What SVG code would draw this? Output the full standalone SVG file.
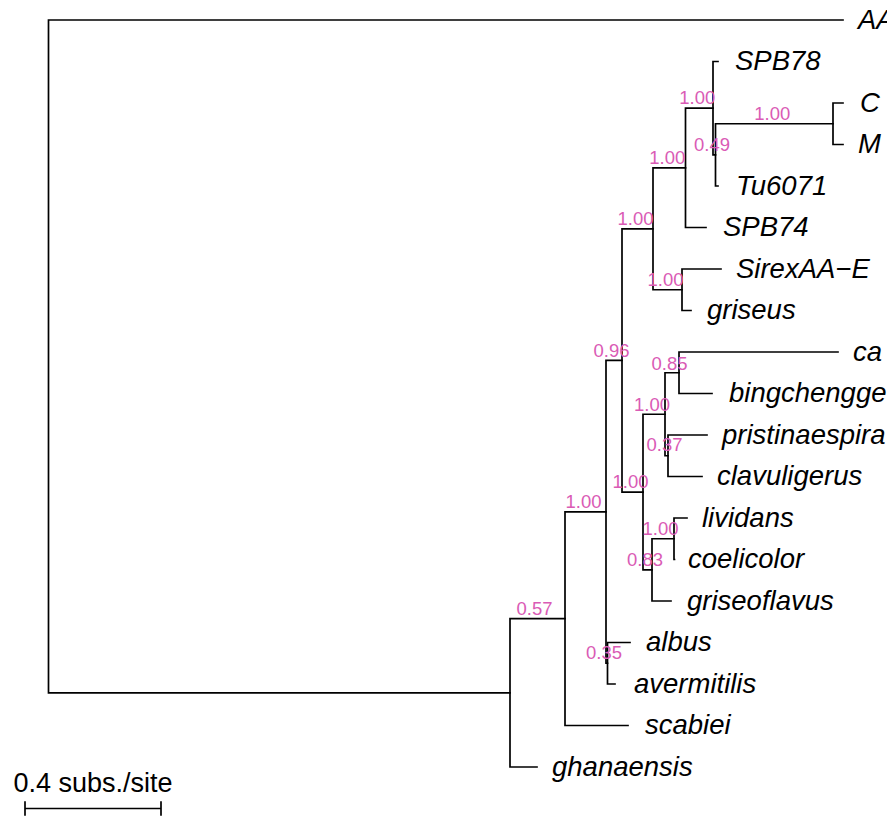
<svg xmlns="http://www.w3.org/2000/svg" width="887" height="816" viewBox="0 0 887 816">
<style>
.br{fill:none;stroke:#000;stroke-width:1.7;stroke-linecap:square}
.tip{font-family:"Liberation Sans",Arial,sans-serif;font-style:italic;font-size:27.5px;fill:#000}
.sup{font-family:"Liberation Sans",Arial,sans-serif;font-size:18.5px;fill:#DA5BB5;text-anchor:middle}
.sc{font-family:"Liberation Sans",Arial,sans-serif;font-size:27px;fill:#000;text-anchor:middle}
</style>
<rect width="887" height="816" fill="#fff"/>
<g id="connectors">
<path class="br" d="M843 20H48.5V692.8H510"/>
<path class="br" d="M565 618.7H510V767H537"/>
<path class="br" d="M606 511.8H565V725.5H628"/>
<path class="br" d="M622 360.4H606V663.25H607.5"/>
<path class="br" d="M653 228.8H622V492.1H643"/>
<path class="br" d="M685.5 167.85H653V289.75H682"/>
<path class="br" d="M713 108.2H685.5V227.5H706"/>
<path class="br" d="M718 61.5H713V154.9H715.5"/>
<path class="br" d="M833 123.75H715.5V186H718"/>
<path class="br" d="M843 103H833V144.5H843"/>
<path class="br" d="M721 269H682V310.5H691"/>
<path class="br" d="M665 414.25H643V569.9H652"/>
<path class="br" d="M679 372.75H665V455.75H668"/>
<path class="br" d="M838 352H679V393.5H712"/>
<path class="br" d="M707 435H668V476.5H702"/>
<path class="br" d="M674 538.75H652V601H671"/>
<path class="br" d="M687 518H674V559.5H674.5"/>
<path class="br" d="M630 642.5H607.5V684H615"/>
</g>
<g id="tip-AA"><text class="tip" x="858" y="28.5">AA</text></g>
<g id="tip-SPB78"><text class="tip" x="735" y="70">SPB78</text></g>
<g id="tip-C"><text class="tip" x="860" y="111.5">C</text></g>
<g id="tip-M"><text class="tip" x="858" y="153">M</text></g>
<g id="tip-Tu6071"><text class="tip" x="736" y="194.5">Tu6071</text></g>
<g id="tip-SPB74"><text class="tip" x="723" y="236">SPB74</text></g>
<g id="tip-SirexAA-E"><text class="tip" x="736" y="277.5">SirexAA−E</text></g>
<g id="tip-griseus"><text class="tip" x="707" y="319">griseus</text></g>
<g id="tip-ca"><text class="tip" x="853" y="360.5">ca</text></g>
<g id="tip-bingchengge"><text class="tip" x="729" y="402">bingchengge</text></g>
<g id="tip-pristinaespira"><text class="tip" x="722" y="443.5">pristinaespira</text></g>
<g id="tip-clavuligerus"><text class="tip" x="717" y="485">clavuligerus</text></g>
<g id="tip-lividans"><text class="tip" x="702" y="526.5">lividans</text></g>
<g id="tip-coelicolor"><text class="tip" x="688" y="568">coelicolor</text></g>
<g id="tip-griseoflavus"><text class="tip" x="687" y="609.5">griseoflavus</text></g>
<g id="tip-albus"><text class="tip" x="646" y="651">albus</text></g>
<g id="tip-avermitilis"><text class="tip" x="634" y="692.5">avermitilis</text></g>
<g id="tip-scabiei"><text class="tip" x="645" y="734">scabiei</text></g>
<g id="tip-ghanaensis"><text class="tip" x="552" y="775.5">ghanaensis</text></g>
<g id="node-J"><text class="sup" x="697.25" y="104">1.00</text></g>
<g id="node-K"><text class="sup" x="712" y="150.5">0.49</text></g>
<g id="node-L"><text class="sup" x="772.25" y="119.5">1.00</text></g>
<g id="node-H"><text class="sup" x="667.25" y="163.5">1.00</text></g>
<g id="node-F"><text class="sup" x="635.5" y="224.5">1.00</text></g>
<g id="node-I"><text class="sup" x="665.5" y="285.5">1.00</text></g>
<g id="node-D"><text class="sup" x="611.5" y="357">0.96</text></g>
<g id="node-O"><text class="sup" x="669.5" y="370">0.85</text></g>
<g id="node-M"><text class="sup" x="652" y="411">1.00</text></g>
<g id="node-P"><text class="sup" x="664.5" y="451">0.37</text></g>
<g id="node-G"><text class="sup" x="630.5" y="488">1.00</text></g>
<g id="node-Q"><text class="sup" x="660.5" y="534.5">1.00</text></g>
<g id="node-N"><text class="sup" x="645" y="565.5">0.83</text></g>
<g id="node-C"><text class="sup" x="583.5" y="507.5">1.00</text></g>
<g id="node-B"><text class="sup" x="534.5" y="614.5">0.57</text></g>
<g id="node-E"><text class="sup" x="604" y="659">0.35</text></g>
<g id="scale-bar">
<text class="sc" x="93" y="791.5">0.4 subs./site</text>
<path class="br" d="M25 808.5H161M25 802V815M161 802V815"/>
</g>
</svg>
